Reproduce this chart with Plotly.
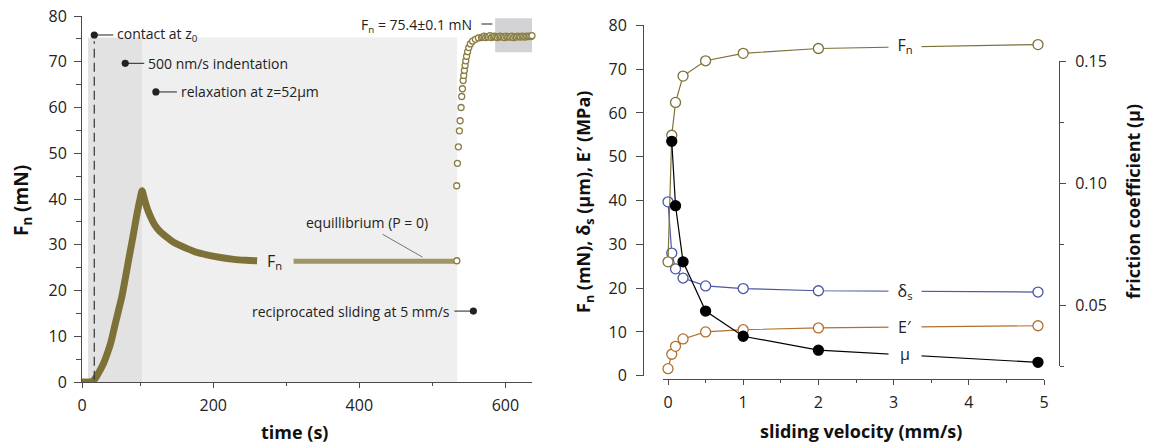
import plotly.graph_objects as go

W, H = 1149, 446

# ---------------- data: left panel (Fn vs time) ----------------
# contact / indentation / relaxation (dense record)
t_load = [20.2, 25, 30, 34, 37, 40, 45, 50, 55, 60, 65, 70, 75, 80, 85, 90, 95, 100, 102.5,
          106, 110, 115, 120, 127, 136, 145, 155, 165, 178, 191, 210, 228, 245, 260]
fn_load = [0, 0, 0, 0.1, 0.5, 1.2, 2.6, 4.2, 6.3, 8.8, 12.2, 15.5, 18.8, 23.1, 27.5, 31.8, 36.3, 40.2, 41.8,
           39.8, 37.7, 35.8, 34.3, 32.9, 31.7, 30.6, 29.8, 29.1, 28.3, 27.8, 27.2, 26.8, 26.6, 26.5]
# equilibrium plateau
t_eq = [310, 350, 400, 450, 500, 533]
fn_eq = [26.4, 26.4, 26.3, 26.3, 26.3, 26.4]
# reciprocated sliding (sparse samples)
t_slide = [533.6, 533.4, 534.4, 535.7, 537.1, 538.1, 539.4, 540.2, 541.2, 542.2, 543.0, 543.9, 544.9,
           545.8, 546.9, 548.3, 549.9, 552.1, 555.1, 559.0, 563.1, 567.2,
           569, 571, 573, 575, 577, 579, 581, 583, 585, 587, 589, 591, 593, 595, 597, 599, 601,
           603, 605, 607, 609, 611, 613, 615, 617, 619, 621, 623, 625, 627, 629, 631, 633, 635, 636.5]
fn_slide = [26.5, 42.9, 47.8, 51.4, 54.9, 57.1, 60.0, 62.4, 64.1, 65.9, 67.0, 68.1, 69.2,
            70.2, 71.2, 72.2, 73.1, 73.9, 74.5, 74.9, 75.2, 75.3,
            75.4, 75.6, 75.3, 75.5, 75.4, 75.7, 75.3, 75.5, 75.6, 75.4, 75.3, 75.5, 75.6, 75.4, 75.5, 75.3, 75.6,
            75.4, 75.5, 75.4, 75.6, 75.3, 75.5, 75.4, 75.6, 75.5, 75.4, 75.6, 75.5, 75.4, 75.6, 75.5, 75.6, 75.5, 75.7]

x1_tickvals = [20.2, 200, 400, 600]
x1_ticktext = ["0", "200", "400", "600"]
x1_minor = [100, 300, 500]
y1_ticks = [0, 10, 20, 30, 40, 50, 60, 70, 80]
y1_minor = [5, 15, 25, 35, 45, 55, 65, 75]

# ---------------- data: right panel (vs sliding velocity) ----------------
velocity = [0, 0.05, 0.1, 0.2, 0.5, 1, 2, 4.92]
fn_v = [26.0, 54.9, 62.4, 68.4, 71.9, 73.6, 74.7, 75.6]
delta_s = [39.7, 28.0, 24.4, 22.3, 20.5, 19.9, 19.4, 19.1]
e_mod = [1.6, 4.9, 6.7, 8.4, 10.0, 10.5, 10.9, 11.4]
velocity_mu = [0.05, 0.1, 0.2, 0.5, 1, 2, 4.92]
mu = [0.1171, 0.0907, 0.0677, 0.0475, 0.0372, 0.0315, 0.0265]

x2_ticks = [0, 1, 2, 3, 4, 5]
x2_minor = [0.5, 1.5, 2.5, 3.5, 4.5]
y2_ticks = [0, 10, 20, 30, 40, 50, 60, 70, 80]
y3_ticks = [0.05, 0.10, 0.15]
y3_ticktext = ["0.05", "0.10", "0.15"]
y3_minor = [0.025, 0.075, 0.125]

# ---------------- styling ----------------
FONT = "Open Sans"
AX = "#4a4a4a"
OLIVE = "#7d7138"
OLIVE_LIGHT = "#a09563"
OLIVE_C = "#8a7d44"
BLUE = "#4a58a6"
BROWN = "#b0702f"

fig = go.Figure()

# left panel traces
fig.add_trace(go.Scatter(x=t_load, y=fn_load, mode="lines", xaxis="x", yaxis="y",
                         line=dict(color=OLIVE, width=7, shape="spline", smoothing=0.6),
                         hoverinfo="skip", showlegend=False))
fig.add_trace(go.Scatter(x=t_eq, y=fn_eq, mode="lines", xaxis="x", yaxis="y",
                         line=dict(color=OLIVE_LIGHT, width=5),
                         hoverinfo="skip", showlegend=False))
fig.add_trace(go.Scatter(x=t_slide, y=fn_slide, mode="markers", xaxis="x", yaxis="y",
                         marker=dict(symbol="circle", size=6, color="white",
                                     line=dict(color=OLIVE_C, width=1.3)),
                         cliponaxis=False, hoverinfo="skip", showlegend=False))

# right panel traces
def series(x, y, color, filled, yaxis):
    return go.Scatter(x=x, y=y, mode="lines+markers", xaxis="x2", yaxis=yaxis,
                      line=dict(color=color, width=1.2),
                      marker=dict(symbol="circle", size=10,
                                  color=color if filled else "white",
                                  line=dict(color=color, width=1.3)),
                      cliponaxis=False, hoverinfo="skip", showlegend=False)

fig.add_trace(series(velocity, delta_s, BLUE, False, "y2"))
fig.add_trace(series(velocity, e_mod, BROWN, False, "y2"))
fig.add_trace(series(velocity, fn_v, OLIVE, False, "y2"))
fig.add_trace(series(velocity_mu, mu, "black", True, "y3"))

# ---------------- shapes ----------------
shapes = [
    dict(type="rect", xref="x", yref="y", x0=102.3, x1=534, y0=0, y1=75.3,
         fillcolor="#efefef", line=dict(width=0), layer="below"),
    dict(type="rect", xref="x", yref="y", x0=28.4, x1=102.3, y0=0, y1=75.3,
         fillcolor="#e2e2e2", line=dict(width=0), layer="below"),
    dict(type="rect", xref="x", yref="y", x0=586, x1=636.5, y0=72.1, y1=79.5,
         fillcolor="#d3d2d4", line=dict(width=0), layer="below"),
    dict(type="line", xref="x", yref="y", x0=37.0, x1=37.0, y0=0.5, y1=74.5,
         line=dict(color="#333", width=1.2, dash="9px,5px")),
    dict(type="line", xref="x", yref="y", x0=431.8, x1=486.5, y0=32.3, y1=27.3,
         line=dict(color="#555", width=0.8)),
    dict(type="line", xref="x", yref="y", x0=567.2, x1=582.2, y0=78.25, y1=78.25,
         line=dict(color="#222", width=1)),
]

ann = []
TXT = dict(family=FONT, size=14, color="#222")

def callout(x, y, ax, text, anchor):
    ann.append(dict(x=x, y=y, xref="x", yref="y", ax=ax, ay=0, text=text,
                    showarrow=True, arrowhead=6, arrowsize=1.8, arrowwidth=1,
                    arrowcolor="#222", xanchor=anchor, yanchor="middle",
                    font=TXT, borderpad=3, standoff=0))

callout(37.0, 75.85, 19, "contact at z<sub>0</sub>", "left")
callout(79.4, 69.66, 19, "500 nm/s indentation", "left")
callout(121.4, 63.4, 21, "relaxation at z=52μm", "left")
callout(556.2, 15.5, -19, "reciprocated sliding at 5 mm/s", "right")

ann.append(dict(x=410.6, y=34.9, xref="x", yref="y", text="equillibrium (P = 0)",
                showarrow=False, font=TXT, xanchor="center", yanchor="middle"))
ann.append(dict(x=557.6, y=78.0, xref="x", yref="y", text="F<sub>n</sub> = 75.4±0.1 mN",
                showarrow=False, font=TXT, xanchor="right", yanchor="middle"))
ann.append(dict(x=284, y=26.3, xref="x", yref="y", text="F<sub>n</sub>",
                showarrow=False, font=dict(family=FONT, size=16, color="#222"),
                xanchor="center", yanchor="middle"))

# right-panel inline labels (cover the line)
LBL = dict(family=FONT, size=16, color="#222")
for yv, txt, yr in [(75.35, "F<sub>n</sub>", "y2"), (19.2, "δ<sub>s</sub>", "y2"),
                    (11.1, "E′", "y2"), (0.0298, "μ", "y3")]:
    ann.append(dict(x=3.145, y=yv, xref="x2", yref=yr, text=txt, showarrow=False,
                    font=LBL, bgcolor="white", width=30, borderpad=1,
                    xanchor="center", yanchor="middle"))

# axis titles
TITLE = dict(family=FONT, size=18, color="#111")
ann += [
    dict(x=22 / W, y=1 - 201 / H, xref="paper", yref="paper", text="<b>F<sub>n</sub> (mN)</b>",
         textangle=-90, showarrow=False, font=dict(family=FONT, size=19, color="#111"),
         xanchor="center", yanchor="middle"),
    dict(x=294 / W, y=1 - 432 / H, xref="paper", yref="paper", text="<b>time (s)</b>",
         showarrow=False, font=TITLE, xanchor="center", yanchor="middle"),
    dict(x=584 / W, y=1 - 202 / H, xref="paper", yref="paper",
         text="<b>F<sub>n</sub> (mN), δ<sub>s</sub> (μm), E′ (MPa)</b>",
         textangle=-90, showarrow=False, font=TITLE, xanchor="center", yanchor="middle"),
    dict(x=861 / W, y=1 - 431 / H, xref="paper", yref="paper", text="<b>sliding velocity (mm/s)</b>",
         showarrow=False, font=TITLE, xanchor="center", yanchor="middle"),
    dict(x=1133 / W, y=1 - 202 / H, xref="paper", yref="paper", text="<b>friction coefficient (μ)</b>",
         textangle=-90, showarrow=False, font=TITLE, xanchor="center", yanchor="middle"),
]

TICKF = dict(family=FONT, size=16, color="#222")
common = dict(showgrid=False, zeroline=False, showline=True, linecolor=AX, linewidth=1,
              ticks="outside", tickcolor=AX, tickwidth=1, tickfont=TICKF, automargin=False)

fig.update_layout(
    template="none",
    width=W, height=H, margin=dict(l=0, r=0, t=0, b=0, pad=0),
    paper_bgcolor="white", plot_bgcolor="rgba(0,0,0,0)", showlegend=False,
    font=dict(family=FONT),
    xaxis=dict(domain=[82 / W, 532 / W], range=[20.2, 636.5], anchor="y",
               tickmode="array", tickvals=x1_tickvals, ticktext=x1_ticktext, ticklen=5,
               minor=dict(tickmode="array", tickvals=x1_minor, ticklen=3, ticks="outside",
                          tickcolor=AX),
               ticklabelstandoff=4, **common),
    yaxis=dict(domain=[1 - 382 / H, 1 - 16 / H], range=[0, 80], anchor="x",
               tickmode="array", tickvals=y1_ticks, ticklen=7,
               minor=dict(tickmode="array", tickvals=y1_minor, ticklen=5, ticks="outside",
                          tickcolor=AX),
               ticklabelstandoff=4, **common),
    xaxis2=dict(domain=[663 / W, 1044 / W], range=[-0.0665, 5.0], anchor="free",
                position=1 - 379 / H, tickmode="array", tickvals=x2_ticks, ticklen=5,
                minor=dict(tickmode="array", tickvals=x2_minor, ticklen=3, ticks="outside",
                           tickcolor=AX),
                ticklabelstandoff=4, **common),
    yaxis2=dict(domain=[1 - 375.7 / H, 1 - 25.3 / H], range=[0, 80], anchor="free",
                position=643 / W, tickmode="array", tickvals=y2_ticks, ticklen=7,
                ticklabelstandoff=6, **common),
    yaxis3=dict(domain=[1 - 366 / H, 1 - 61 / H], range=[0.025, 0.15], anchor="free",
                position=1059 / W, side="right", tickmode="array", tickvals=y3_ticks,
                ticktext=y3_ticktext, ticklen=6,
                minor=dict(tickmode="array", tickvals=y3_minor, ticklen=4, ticks="outside",
                           tickcolor=AX),
                ticklabelstandoff=6, **common),
    shapes=shapes,
    annotations=ann,
)

fig.write_html("out.html")
